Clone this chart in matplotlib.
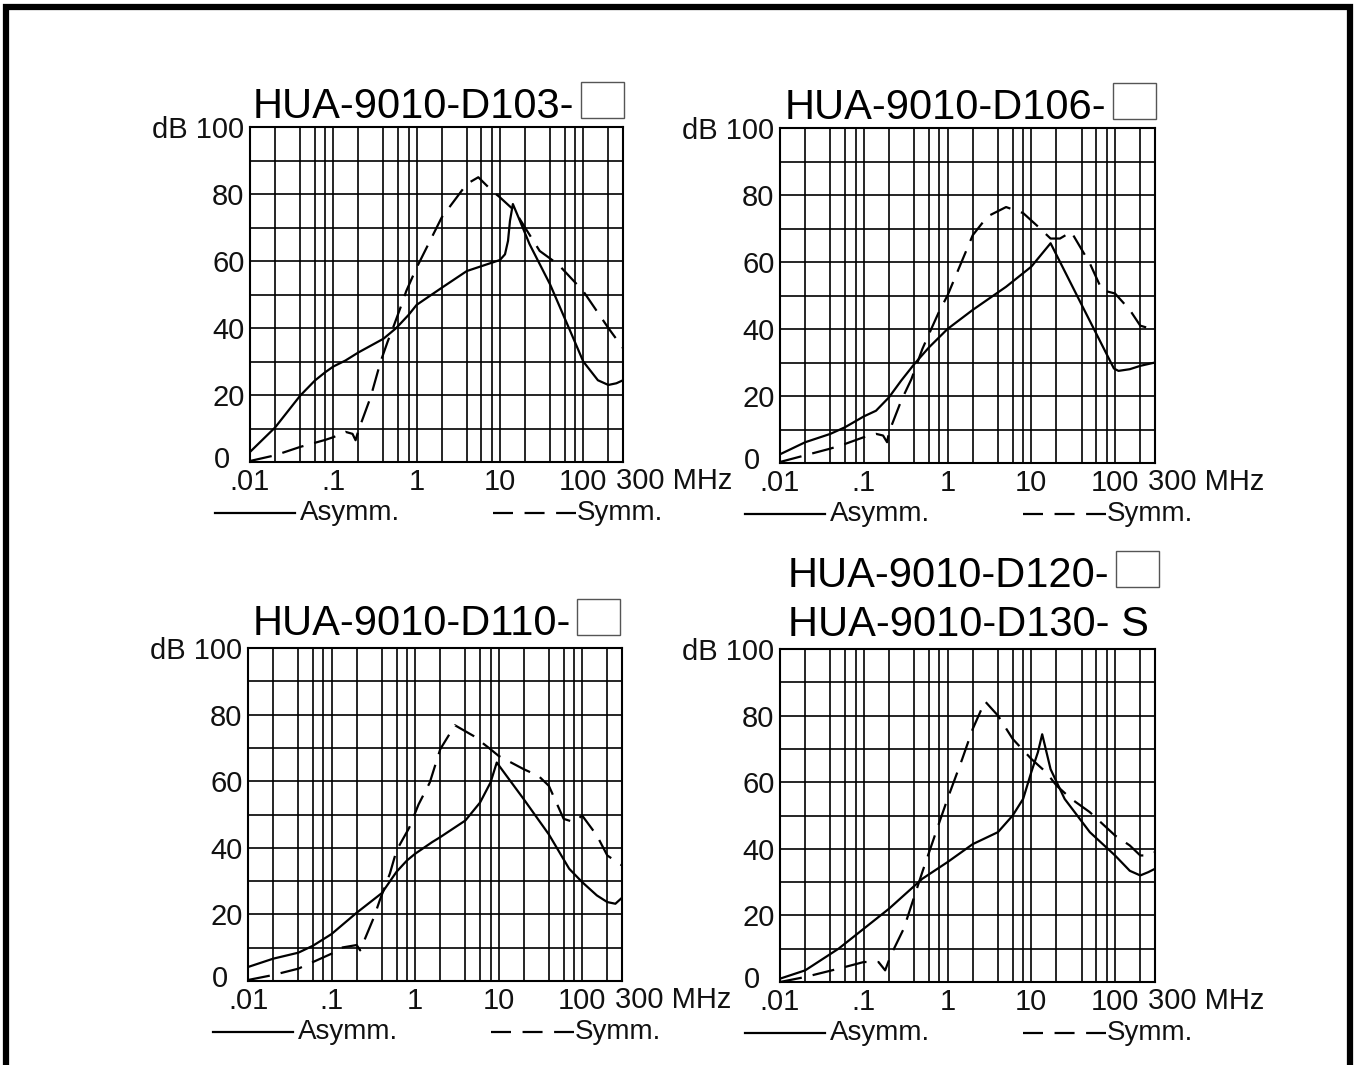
import matplotlib.pyplot as plt
from matplotlib.patches import Rectangle
from matplotlib.lines import Line2D

W, H = 1361, 1065

# ---- data (frequency in MHz, attenuation in dB) ----
f_asym_103 = [0.01, 0.02, 0.04, 0.06, 0.08, 0.1, 0.14, 0.2, 0.4, 0.57, 0.8, 1, 2, 4, 10, 11.5, 12.5, 13.2, 14.3, 16.7, 22.7, 40, 70, 100, 150, 200, 250, 300]
db_asym_103 = [3, 10.3, 19.8, 24.3, 26.8, 28.5, 30.3, 32.7, 36.8, 40, 43.9, 46.9, 52, 57, 60.3, 62, 66, 72, 77, 73, 65, 53, 39, 30, 24.4, 23, 23.5, 24.4]
f_sym_103 = [0.01, 0.02, 0.04, 0.08, 0.1, 0.14, 0.17, 0.185, 0.2, 0.28, 0.37, 0.45, 0.52, 0.66, 0.75, 1, 2, 4, 5.5, 8, 10, 15, 20, 30, 50, 100, 200, 300]
db_sym_103 = [0.3, 2, 4.5, 6.6, 7.4, 9, 8.4, 6.5, 9.4, 19.3, 30, 36, 40, 47, 51, 58, 73, 83, 85, 81, 79, 75, 70, 63, 59, 51, 40, 34]

f_asym_106 = [0.01, 0.02, 0.04, 0.06, 0.1, 0.14, 0.2, 0.28, 0.4, 0.6, 1, 2, 5, 10, 17, 40, 97, 110, 150, 200, 300]
db_asym_106 = [2.6, 6.2, 8.7, 10.7, 13.9, 15.6, 19.6, 24.6, 29.5, 34.5, 40, 45.7, 52.6, 58.6, 65.6, 47.2, 28.2, 27.5, 28, 29, 30]
f_sym_106 = [0.01, 0.02, 0.04, 0.06, 0.1, 0.14, 0.17, 0.19, 0.2, 0.28, 0.37, 0.5, 0.65, 0.8, 1, 2, 3, 5, 8, 12, 17, 22, 30, 50, 70, 100, 150, 200, 300]
db_sym_106 = [0.3, 2.3, 4.3, 5.7, 7.7, 8.7, 8.2, 6.2, 9.2, 18.6, 25, 34, 40.4, 45.4, 50, 68, 73.6, 76.4, 74.6, 70.6, 67, 67, 69, 59.6, 51.6, 50.6, 45.7, 41, 39.7]

f_asym_110 = [0.01, 0.02, 0.04, 0.06, 0.1, 0.2, 0.4, 0.6, 0.8, 1, 1.6, 2, 4, 6, 8, 9.5, 20, 40, 70, 100, 150, 200, 250, 300]
db_asym_110 = [4.2, 6.7, 8.5, 10.6, 14.1, 20.5, 26.4, 32.8, 36.2, 38.2, 41.7, 43.2, 48.2, 53.6, 59.6, 65.6, 54.6, 44, 33.7, 29.7, 25.7, 23.7, 23.2, 25]
f_sym_110 = [0.01, 0.02, 0.04, 0.06, 0.1, 0.13, 0.2, 0.22, 0.32, 0.38, 0.5, 0.6, 0.85, 1.1, 1.5, 2, 3, 5, 8, 10, 20, 30, 40, 60, 80, 100, 150, 200, 300]
db_sym_110 = [0.3, 1.8, 3.7, 5.7, 8.2, 10, 10.8, 9.2, 19, 24.4, 32.3, 39.2, 46, 53, 59.6, 69.6, 76.8, 73.6, 69.6, 67.6, 63.6, 61.6, 58.6, 48.7, 47.7, 49.7, 43.7, 37.7, 34.7]

f_asym_120 = [0.01, 0.02, 0.05, 0.1, 0.2, 0.5, 1, 2, 4, 6, 8, 10, 12, 13.5, 17, 25, 50, 100, 150, 200, 250, 300]
db_asym_120 = [1, 3.5, 10, 16, 22, 31, 36, 41.4, 45, 50, 55, 63, 69, 74.4, 63.9, 55, 45, 38, 33.4, 32, 33, 34]
f_sym_120 = [0.01, 0.02, 0.05, 0.1, 0.15, 0.18, 0.21, 0.3, 0.5, 0.8, 1, 1.5, 2, 2.8, 4, 6, 10, 15, 20, 30, 50, 100, 150, 200, 250, 300]
db_sym_120 = [0, 1.5, 4, 6, 6, 3.5, 8, 16, 33, 48, 55, 67, 76, 84.3, 80, 73, 67, 63, 59, 55, 51, 44, 41, 38, 38, 39]

titles = [["HUA-9010-D103-"], ["HUA-9010-D106-"], ["HUA-9010-D110-"], ["HUA-9010-D120-", "HUA-9010-D130- S"]]
title_has_box = [[True], [True], [True], [True, False]]
x_ticks = [0.01, 0.1, 1, 10, 100]
x_tick_labels = [".01", ".1", "1", "10", "100"]
y_ticks = [20, 40, 60, 80, 100]
y_tick_labels = ["20", "40", "60", "80", "dB 100"]

curves = [
    (f_asym_103, db_asym_103, f_sym_103, db_sym_103),
    (f_asym_106, db_asym_106, f_sym_106, db_sym_106),
    (f_asym_110, db_asym_110, f_sym_110, db_sym_110),
    (f_asym_120, db_asym_120, f_sym_120, db_sym_120),
]

# panel boxes in pixels: left, top, right, bottom
rects = [(250, 127, 623, 462), (780, 128, 1155, 463), (248, 648, 622, 981), (780, 649, 1155, 982)]
title_pos = [[(253, 118)], [(785, 119)], [(253, 635)], [(788, 587), (788, 636)]]

label_font = ["Liberation Sans", "DejaVu Sans"]
title_font = ["Liberation Sans", "DejaVu Sans"]
DASH = (10, 5)


def fx(x):
    return x / W


def fy(y):
    return 1 - y / H


fig = plt.figure(figsize=(W / 100, H / 100), dpi=100)
fig.patch.set_facecolor("white")

grid_x = [m * 10.0 ** e for e in range(-2, 2) for m in (2, 4, 6, 8)] + [200]

title_texts = []
for i, (l, t, r, b) in enumerate(rects):
    ax = fig.add_axes([fx(l), fy(b), (r - l) / W, (b - t) / H])
    fa, da, fs, ds = curves[i]
    ax.plot(fa, da, color="black", lw=1.6, solid_joinstyle="round")
    ax.plot(fs, ds, color="black", lw=1.6, dashes=DASH)
    ax.set_xscale("log")
    ax.set_xticks(x_ticks)
    ax.set_xticklabels(x_tick_labels)
    ax.set_xticks(grid_x, minor=True)
    ax.set_xticklabels([], minor=True)
    ax.set_yticks(y_ticks)
    ax.set_yticklabels(y_tick_labels)
    ax.set_yticks(range(10, 100, 20), minor=True)
    ax.set_xlim(0.01, 300)
    ax.set_ylim(0, 100)
    ax.tick_params(which="both", length=0)
    ax.tick_params(axis="x", pad=4)
    ax.tick_params(axis="y", pad=4)
    for lab in ax.get_xticklabels() + ax.get_yticklabels():
        lab.set_fontsize(21)
        lab.set_family(label_font)
        lab.set_color("#111111")
    ax.grid(which="both", color="black", lw=1.2)
    ax.set_axisbelow(True)
    for s in ax.spines.values():
        s.set_linewidth(1.5)

    # zero of the dB scale, set a little left of the corner
    fig.text(fx(l - 28), fy(b - 2), "0", fontsize=21, family=label_font,
             ha="center", va="center", color="#111111")
    # "300 MHz" at the right end of the frequency axis
    fig.text(fx(r - 7), fy(b + 19), "300 MHz", fontsize=21, family=label_font,
             ha="left", va="center", color="#111111")

    # legend row below the panel
    ly = fy(b + 51)
    fig.add_artist(Line2D([fx(l - 35), fx(l + 45)], [ly, ly], color="black", lw=1.6))
    fig.text(fx(l + 50), ly, "Asymm.", fontsize=20, family=label_font,
             ha="left", va="center", color="#111111")
    fig.add_artist(Line2D([fx(l + 243), fx(l + 326)], [ly, ly], color="black", lw=1.6, dashes=(9, 5.2)))
    fig.text(fx(l + 327), ly, "Symm.", fontsize=20, family=label_font,
             ha="left", va="center", color="#111111")

    for j, txt in enumerate(titles[i]):
        x0, y0 = title_pos[i][j]
        tt = fig.text(fx(x0), fy(y0), txt, fontsize=30, family=title_font,
                      ha="left", va="baseline", color="black")
        title_texts.append((tt, title_has_box[i][j], y0))

# boxes after the product numbers
fig.canvas.draw()
renderer = fig.canvas.get_renderer()
for tt, has_box, y0 in title_texts:
    if not has_box:
        continue
    bb = tt.get_window_extent(renderer)
    x_end = bb.x1 + 6
    fig.add_artist(Rectangle((x_end / W, fy(y0)), 43 / W, 36 / H, transform=fig.transFigure,
                             facecolor="white", edgecolor="#555555", lw=1.0))

# page frame (left, top, right)
fig.add_artist(Line2D([fx(6), fx(6), fx(1350), fx(1350)], [-0.02, fy(7), fy(7), -0.02],
                      color="black", lw=4.5, solid_joinstyle="miter"))

fig.savefig("out.png", dpi=100, facecolor="white")
